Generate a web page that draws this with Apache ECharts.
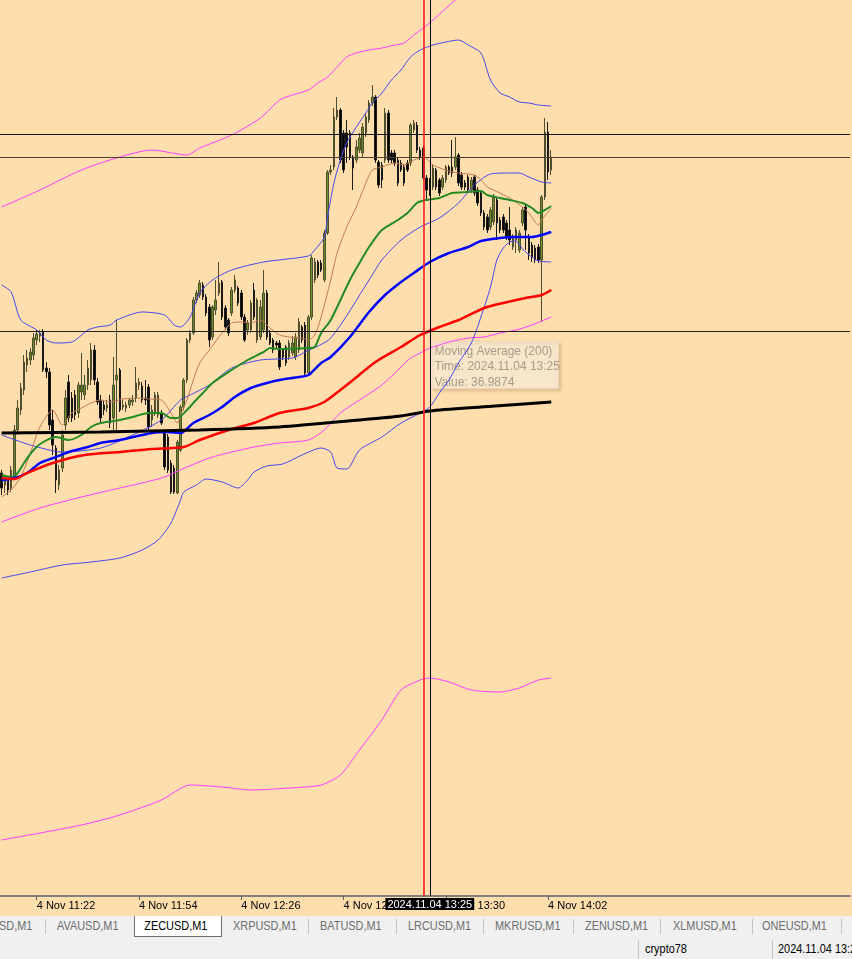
<!DOCTYPE html>
<html>
<head>
<meta charset="utf-8">
<script src="https://cdn.jsdelivr.net/npm/echarts@6/dist/echarts.min.js"></script>
<style>
  body { margin: 0; width: 852px; height: 959px; overflow: hidden; background: #f0f0f0; position: relative;
         font-family: 'Liberation Sans', Arial, sans-serif; }
  #chart { position: absolute; left: 0; top: 0; width: 852px; height: 916px; }
  #tabs { position: absolute; left: 0; top: 916px; width: 852px; height: 21px; background: #f0f0f0; }
  .tab { position: absolute; top: 0; height: 20px; line-height: 20px; font-size: 13px; color: #6d6d6d; white-space: nowrap; }
  .tab span, .cell span { display: inline-block; transform: scaleX(0.84); transform-origin: left center; }
  .tab.active { background: #fff; border: 1px solid #6f6f6f; border-top: none; color: #000; }
  .tab.active span { padding-left: 11px; }
  .sep { position: absolute; top: 3px; width: 1px; height: 15px; background: #c4c4c4; }
  #status { position: absolute; left: 0; top: 937px; width: 852px; height: 22px; background: #f0f0f0; }
  .cell { position: absolute; top: 2px; height: 20px; line-height: 20px; font-size: 13px; color: #000; white-space: nowrap; }
</style>
</head>
<body>
<div id="chart"></div>
<div id="tabs"></div>
<div id="status"></div>
<script>
// bar times start at 11:11, one bar per minute; the axis keeps empty slots to the right
const firstMinute = 11 * 60 + 11
const slotCount = 266
const tickTimes = ['11:22', '11:54', '12:26', '12:58', '13:30', '14:02']
const tickLabels = ['4 Nov 11:22', '4 Nov 11:54', '4 Nov 12:26', '4 Nov 12:58', '4 Nov 13:30', '4 Nov 14:02']
const priceMin = 36.504
const priceMax = 37.4

// [open, close, low, high]
const candles = [
  [36.927,36.912,36.905,36.930],[36.915,36.920,36.907,36.924],[36.920,36.910,36.905,36.922],[36.912,36.930,36.908,36.934],
  [36.923,36.970,36.920,36.975],[36.970,36.992,36.965,37.000],[36.990,37.012,36.985,37.017],[37.010,37.038,37.005,37.045],
  [37.035,37.042,37.028,37.050],[37.040,37.048,37.035,37.052],[37.045,37.062,37.040,37.067],[37.060,37.066,37.055,37.070],
  [37.064,37.067,37.058,37.070],[37.068,37.030,37.028,37.071],[37.032,37.028,37.022,37.038],[37.028,36.975,36.970,37.032],
  [36.980,36.955,36.945,36.990],[36.952,36.920,36.907,36.955],[36.915,36.930,36.910,36.935],[36.932,36.965,36.928,36.970],
  [36.975,37.002,36.970,37.010],[37.018,36.982,36.978,37.025],[37.002,36.982,36.978,37.008],[37.005,36.985,36.980,37.010],
  [36.987,37.015,36.982,37.018],[37.008,37.015,37.000,37.047],[37.005,37.015,37.000,37.025],[37.015,37.032,37.010,37.040],
  [37.020,37.050,37.015,37.057],[37.050,37.020,37.015,37.055],[37.018,36.998,36.995,37.022],[37.000,36.982,36.978,37.005],
  [36.995,36.990,36.985,37.000],[36.992,36.995,36.988,37.000],[37.000,36.977,36.972,37.005],[36.982,37.015,36.970,37.043],
  [37.020,37.025,36.970,37.080],[37.030,36.990,36.988,37.032],[36.993,36.995,36.990,37.000],[36.992,36.995,36.988,36.998],
  [36.995,37.000,36.992,37.002],[36.998,37.000,36.994,37.005],[37.002,37.017,36.998,37.033],[37.015,37.018,37.010,37.022],
  [37.014,37.000,36.997,37.018],[37.002,37.000,36.995,37.020],[37.013,36.973,36.970,37.016],[36.980,36.990,36.973,36.995],
  [36.987,37.005,36.984,37.008],[36.985,37.005,36.982,37.008],[36.987,36.977,36.975,36.990],[36.967,36.933,36.930,36.970],
  [36.963,36.930,36.927,36.966],[36.937,36.908,36.906,36.940],[36.932,36.908,36.906,36.935],[36.907,36.958,36.906,36.960],
  [36.950,36.993,36.948,36.995],[36.993,37.020,36.990,37.022],[37.020,37.060,37.017,37.062],[37.060,37.067,37.057,37.070],
  [37.067,37.100,37.065,37.103],[37.100,37.107,37.097,37.110],[37.105,37.117,37.102,37.120],[37.115,37.103,37.100,37.118],
  [37.103,37.087,37.084,37.106],[37.093,37.060,37.053,37.096],[37.063,37.093,37.060,37.095],[37.090,37.100,37.085,37.120],
  [37.107,37.117,37.104,37.138],[37.118,37.083,37.080,37.120],[37.092,37.073,37.070,37.095],[37.080,37.067,37.064,37.082],
  [37.087,37.110,37.084,37.113],[37.110,37.120,37.107,37.125],[37.112,37.097,37.094,37.114],[37.107,37.083,37.080,37.110],
  [37.083,37.060,37.058,37.086],[37.070,37.077,37.065,37.080],[37.070,37.097,37.067,37.100],[37.110,37.083,37.080,37.117],
  [37.060,37.100,37.057,37.102],[37.063,37.093,37.060,37.100],[37.070,37.107,37.067,37.130],[37.107,37.063,37.060,37.110],
  [37.067,37.057,37.055,37.070],[37.060,37.050,37.047,37.062],[37.057,37.055,37.052,37.059],[37.057,37.033,37.030,37.060],
  [37.050,37.043,37.040,37.052],[37.053,37.037,37.034,37.055],[37.043,37.057,37.040,37.060],[37.047,37.057,37.044,37.064],
  [37.043,37.063,37.040,37.067],[37.050,37.078,37.047,37.082],[37.073,37.060,37.057,37.075],[37.075,37.027,37.025,37.078],
  [37.027,37.083,37.025,37.085],[37.083,37.142,37.080,37.145],[37.120,37.138,37.117,37.142],[37.138,37.125,37.122,37.140],
  [37.137,37.130,37.128,37.140],[37.120,37.167,37.118,37.170],[37.167,37.228,37.165,37.230],[37.228,37.230,37.225,37.235],
  [37.233,37.283,37.230,37.292],[37.283,37.290,37.280,37.303],[37.290,37.240,37.237,37.292],[37.267,37.230,37.227,37.270],
  [37.267,37.253,37.237,37.280],[37.267,37.243,37.240,37.270],[37.243,37.232,37.210,37.245],[37.240,37.253,37.237,37.260],
  [37.250,37.262,37.247,37.267],[37.247,37.273,37.243,37.277],[37.267,37.283,37.263,37.287],[37.280,37.297,37.277,37.300],
  [37.297,37.303,37.294,37.315],[37.303,37.240,37.237,37.305],[37.238,37.215,37.212,37.240],[37.235,37.220,37.212,37.238],
  [37.240,37.287,37.237,37.292],[37.287,37.240,37.237,37.290],[37.247,37.240,37.237,37.250],[37.247,37.237,37.234,37.250],
  [37.240,37.217,37.214,37.243],[37.237,37.230,37.228,37.240],[37.233,37.217,37.214,37.236],[37.237,37.230,37.228,37.240],
  [37.237,37.275,37.234,37.277],[37.270,37.277,37.267,37.280],[37.275,37.250,37.247,37.278],[37.250,37.243,37.240,37.253],
  [37.252,37.222,37.219,37.255],[37.222,37.210,37.200,37.225],[37.220,37.207,37.204,37.222],[37.213,37.232,37.210,37.235],
  [37.230,37.213,37.210,37.232],[37.220,37.207,37.204,37.222],[37.213,37.222,37.210,37.225],[37.220,37.233,37.217,37.235],
  [37.233,37.227,37.225,37.235],[37.233,37.227,37.223,37.260],[37.233,37.243,37.230,37.263],[37.245,37.217,37.214,37.247],
  [37.225,37.213,37.210,37.228],[37.217,37.213,37.210,37.220],[37.223,37.210,37.207,37.225],[37.210,37.220,37.207,37.223],
  [37.223,37.207,37.204,37.225],[37.210,37.197,37.194,37.213],[37.207,37.187,37.184,37.210],[37.187,37.173,37.170,37.190],
  [37.183,37.170,37.167,37.186],[37.173,37.190,37.170,37.193],[37.178,37.203,37.175,37.206],[37.200,37.177,37.160,37.203],
  [37.180,37.170,37.167,37.183],[37.183,37.170,37.167,37.186],[37.177,37.163,37.160,37.180],[37.170,37.160,37.155,37.193],
  [37.153,37.163,37.150,37.166],[37.160,37.170,37.147,37.173],[37.150,37.167,37.147,37.170],[37.177,37.190,37.174,37.193],
  [37.193,37.170,37.150,37.195],[37.163,37.147,37.140,37.166],[37.155,37.143,37.138,37.158],[37.152,37.140,37.137,37.155],
  [37.153,37.140,37.137,37.156],[37.140,37.203,37.078,37.205],[37.203,37.268,37.200,37.282],[37.268,37.228,37.220,37.278],
  [37.230,37.243,37.225,37.250]
]

// indicator lines: [bar index, price]
const ma200 = [[0,36.967],[31,36.968],[62,36.970],[87,36.973],[112,36.980],[125,36.984],[134,36.989],[150,36.993],[172,36.998]]
const ma100 = [[0,36.922],[4,36.921],[8,36.927],[16,36.937],[26,36.945],[37,36.948],[47,36.951],[57,36.953],[62,36.960],
  [72,36.971],[79,36.977],[87,36.987],[96,36.992],[101,36.998],[106,37.010],[110,37.020],[117,37.038],[125,37.053],
  [131,37.065],[137,37.073],[143,37.080],[151,37.092],[157,37.097],[164,37.102],[169,37.105],[172,37.110]]
const ma50 = [[0,36.920],[4,36.922],[8,36.927],[12,36.937],[17,36.943],[21,36.948],[27,36.953],[31,36.957],[37,36.960],
  [47,36.967],[52,36.968],[56,36.967],[60,36.977],[65,36.985],[69,36.993],[73,37.003],[78,37.012],[83,37.017],[87,37.020],
  [93,37.023],[96,37.025],[100,37.037],[103,37.043],[109,37.063],[115,37.088],[120,37.105],[125,37.118],[129,37.127],
  [134,37.138],[140,37.147],[146,37.153],[150,37.159],[156,37.162],[160,37.163],[166,37.163],[169,37.165],[172,37.168]]
const ma20 = [[0,36.925],[3,36.923],[5,36.927],[7,36.937],[10,36.950],[13,36.958],[17,36.963],[21,36.960],[25,36.965],
  [28,36.973],[31,36.977],[37,36.980],[41,36.983],[46,36.987],[50,36.987],[53,36.982],[55,36.982],[58,36.990],[60,36.997],
  [63,37.007],[66,37.017],[72,37.030],[77,37.040],[82,37.048],[84,37.052],[87,37.051],[96,37.052],[98,37.053],[100,37.067],
  [103,37.080],[109,37.120],[112,37.137],[115,37.153],[119,37.170],[124,37.180],[127,37.187],[130,37.197],[133,37.200],
  [137,37.202],[141,37.207],[146,37.208],[150,37.209],[152,37.205],[156,37.202],[159,37.200],[163,37.197],[166,37.192],
  [168,37.187],[170,37.190],[172,37.194]]
const ma10 = [[0,36.903],[3,36.910],[6,36.923],[9,36.947],[12,36.973],[16,36.990],[19,36.975],[22,36.987],[25,36.992],
  [28,36.997],[31,37.000],[34,36.998],[38,37.001],[43,37.002],[46,37.001],[50,37.000],[53,36.987],[55,36.977],[56,36.985],
  [58,37.000],[60,37.020],[62,37.037],[65,37.050],[69,37.067],[72,37.077],[75,37.078],[78,37.077],[81,37.080],[84,37.072],
  [87,37.065],[90,37.063],[94,37.062],[96,37.060],[98,37.065],[100,37.083],[103,37.120],[105,37.147],[108,37.173],
  [111,37.193],[114,37.217],[116,37.230],[119,37.233],[123,37.237],[126,37.235],[129,37.240],[132,37.243],[135,37.235],
  [139,37.230],[143,37.227],[148,37.225],[150,37.220],[152,37.213],[156,37.207],[160,37.200],[163,37.193],[165,37.187],
  [168,37.175],[169,37.180],[172,37.192]]
const bandUpper = [[0,37.115],[3,37.108],[6,37.080],[11,37.070],[14,37.060],[17,37.057],[22,37.058],[27,37.070],[30,37.073],
  [34,37.075],[36,37.080],[44,37.088],[51,37.085],[54,37.075],[56,37.073],[59,37.083],[62,37.107],[66,37.120],[72,37.130],
  [82,37.138],[96,37.144],[98,37.150],[101,37.163],[102,37.183],[104,37.217],[106,37.240],[108,37.257],[111,37.273],
  [114,37.287],[116,37.297],[119,37.307],[122,37.320],[125,37.330],[128,37.343],[131,37.350],[135,37.355],[139,37.358],
  [143,37.360],[146,37.355],[150,37.347],[153,37.320],[156,37.307],[159,37.303],[162,37.298],[165,37.297],[168,37.295],[172,37.294]]
const bandLower = [[0,36.822],[9,36.828],[19,36.835],[28,36.838],[37,36.842],[44,36.850],[49,36.860],[53,36.877],[56,36.900],
  [57,36.908],[61,36.915],[64,36.921],[69,36.918],[74,36.912],[77,36.920],[79,36.928],[83,36.934],[88,36.936],[94,36.945],
  [100,36.952],[103,36.948],[105,36.932],[108,36.931],[112,36.950],[119,36.963],[125,36.977],[131,36.987],[134,36.993],
  [137,37.007],[140,37.020],[143,37.037],[147,37.057],[150,37.083],[153,37.113],[155,37.140],[157,37.152],[159,37.158],
  [161,37.159],[162,37.155],[164,37.148],[166,37.143],[168,37.139],[172,37.138]]
const innerBand = [[0,36.965],[9,36.955],[19,36.948],[31,36.952],[41,36.965],[50,36.980],[56,37.000],[59,37.005],[65,37.015],
  [72,37.032],[81,37.040],[91,37.042],[95,37.048],[103,37.062],[115,37.120],[119,37.140],[125,37.160],[131,37.173],
  [137,37.182],[143,37.197],[148,37.215],[153,37.226],[159,37.227],[162,37.227],[165,37.223],[169,37.218],[172,37.217]]
const envUpper = [[0,37.193],[12,37.210],[25,37.230],[37,37.243],[47,37.250],[58,37.245],[62,37.252],[72,37.265],[81,37.282],
  [87,37.300],[91,37.305],[96,37.310],[99,37.317],[102,37.323],[105,37.333],[108,37.343],[111,37.347],[115,37.350],
  [119,37.352],[123,37.355],[126,37.357],[129,37.365],[132,37.372],[135,37.380],[142,37.400],[150,37.420],[172,37.450]]
const envMiddle = [[0,36.878],[12,36.892],[25,36.903],[37,36.912],[44,36.917],[51,36.923],[58,36.933],[65,36.942],[72,36.948],
  [79,36.953],[87,36.957],[96,36.960],[101,36.970],[106,36.987],[112,37.000],[119,37.015],[125,37.033],[128,37.042],
  [131,37.047],[134,37.052],[137,37.055],[140,37.058],[146,37.062],[151,37.063],[156,37.067],[161,37.070],[166,37.075],[172,37.083]]
const envLower = [[0,36.560],[12,36.567],[25,36.575],[37,36.585],[50,36.600],[59,36.615],[69,36.613],[78,36.610],[90,36.612],
  [100,36.615],[106,36.625],[112,36.650],[119,36.680],[125,36.710],[131,36.720],[134,36.722],[140,36.718],[147,36.710],
  [156,36.708],[162,36.712],[168,36.720],[172,36.722]]

const levels = [37.266, 37.243, 37.069]
const levelColors = ['#141414', '#4e4232', '#262020']
const selectedTime = '13:25'
const markerTime = '13:23'

const tabNames = ['SD,M1', 'AVAUSD,M1', 'ZECUSD,M1', 'XRPUSD,M1', 'BATUSD,M1', 'LRCUSD,M1', 'MKRUSD,M1', 'ZENUSD,M1', 'XLMUSD,M1', 'ONEUSD,M1']
const tabLeft = [-1, 57, 134, 233, 320, 408, 495, 585, 673, 762]
const tabSeps = [45, 308, 396, 483, 573, 660, 752, 841]
const activeTab = 2

const times = []
for (let i = 0; i < slotCount; i++) {
  const m = firstMinute + i
  times.push(String(Math.floor(m / 60)).padStart(2, '0') + ':' + String(m % 60).padStart(2, '0'))
}

function lineSeries(data, color, width) {
  return {
    type: 'line',
    data,
    showSymbol: false,
    smooth: 0.25,
    silent: true,
    lineStyle: { color, width },
    z: 3,
  }
}

const chart = echarts.init(document.getElementById('chart'))
const font = "'Liberation Sans', Arial, sans-serif"

chart.setOption({
  animation: false,
  backgroundColor: '#ffdead',
  grid: { left: -2, right: 2, top: 0, bottom: 20 },
  xAxis: {
    type: 'category',
    data: times,
    boundaryGap: true,
    axisLine: { lineStyle: { color: '#808080', width: 2 } },
    axisTick: {
      show: true,
      length: 4,
      alignWithLabel: true,
      interval: (idx, val) => tickTimes.includes(val),
      lineStyle: { color: '#606060' },
    },
    axisLabel: {
      interval: (idx, val) => tickTimes.includes(val),
      formatter: (val) => tickLabels[tickTimes.indexOf(val)],
      align: 'left',
      margin: 4,
      color: '#000',
      fontSize: 11,
      fontFamily: font,
    },
    splitLine: { show: false },
  },
  yAxis: {
    type: 'value',
    min: priceMin,
    max: priceMax,
    show: false,
    splitLine: { show: false },
  },
  series: [
    {
      type: 'candlestick',
      data: candles,
      barWidth: 2,
      silent: true,
      z: 2,
      itemStyle: {
        color: '#6b8e23',
        color0: '#000000',
        borderColor: '#4d4d30',
        borderColor0: '#1a1a1a',
        borderWidth: 1,
      },
    },
    lineSeries(envUpper, '#ff3cff', 1),
    lineSeries(envMiddle, '#ff3cff', 1),
    lineSeries(envLower, '#ff3cff', 1),
    lineSeries(bandUpper, '#4646f0', 1),
    lineSeries(bandLower, '#4646f0', 1),
    lineSeries(innerBand, '#4646f0', 1),
    lineSeries(ma10, '#c07a52', 1),
    lineSeries(ma20, '#228b22', 2),
    lineSeries(ma50, '#0000ff', 2.5),
    lineSeries(ma100, '#ff0000', 2.5),
    lineSeries(ma200, '#000000', 3),
    {
      // horizontal levels, the red marker line and the crosshair line
      type: 'scatter',
      data: [],
      silent: true,
      z: 5,
      markLine: {
        symbol: 'none',
        silent: true,
        animation: false,
        precision: 4,
        label: { show: false },
        emphasis: { disabled: true },
        data: [
          ...levels.map((v, i) => ({ yAxis: v, lineStyle: { color: levelColors[i], width: 1, type: 'solid' } })),
          { xAxis: markerTime, lineStyle: { color: '#ff2020', width: 1.6, type: 'solid' } },
          {
            xAxis: selectedTime,
            lineStyle: { color: '#000000', width: 1, type: 'solid' },
            label: {
              show: true,
              position: 'start',
              distance: 2,
              formatter: '2024.11.04 ' + selectedTime,
              backgroundColor: '#000',
              color: '#fff',
              padding: [1, 2, 0, 2],
              fontSize: 11,
              fontFamily: font,
            },
          },
        ],
      },
    },
  ],
  graphic: [
    {
      type: 'group',
      left: 430,
      top: 341,
      children: [
        {
          type: 'rect',
          shape: { x: 0, y: 0, width: 128, height: 47 },
          style: {
            fill: 'rgba(252,236,212,0.85)',
            stroke: '#ecd9bd',
            lineWidth: 1,
            shadowBlur: 3,
            shadowOffsetX: 2,
            shadowOffsetY: 2,
            shadowColor: 'rgba(120,90,50,0.25)',
          },
        },
        {
          type: 'text',
          x: 4,
          y: 2,
          style: {
            text: 'Moving Average (200)\nTime: 2024.11.04 13:25\nValue: 36.9874',
            fill: '#a89a88',
            font: "12px 'Liberation Sans', Arial, sans-serif",
            lineHeight: 15.5,
          },
        },
      ],
    },
  ],
})

// terminal tabs and status bar below the chart
const tabs = document.getElementById('tabs')
tabNames.forEach((name, i) => {
  const el = document.createElement('div')
  el.className = 'tab' + (i === activeTab ? ' active' : '')
  const span = document.createElement('span')
  span.textContent = name
  el.appendChild(span)
  el.style.left = tabLeft[i] + 'px'
  if (i === activeTab) el.style.width = '86px'
  tabs.appendChild(el)
})
tabSeps.forEach((x) => {
  const s = document.createElement('div')
  s.className = 'sep'
  s.style.left = x + 'px'
  tabs.appendChild(s)
})

const status = document.getElementById('status')
const statusCells = [['crypto78', 645], ['2024.11.04 13:25', 778]]
statusCells.forEach(([text, x]) => {
  const c = document.createElement('div')
  c.className = 'cell'
  const span = document.createElement('span')
  span.textContent = text
  c.appendChild(span)
  c.style.left = x + 'px'
  status.appendChild(c)
})
;[638, 772].forEach((x) => {
  const s = document.createElement('div')
  s.className = 'sep'
  s.style.left = x + 'px'
  s.style.top = '3px'
  s.style.height = '19px'
  status.appendChild(s)
})
</script>
</body>
</html>
